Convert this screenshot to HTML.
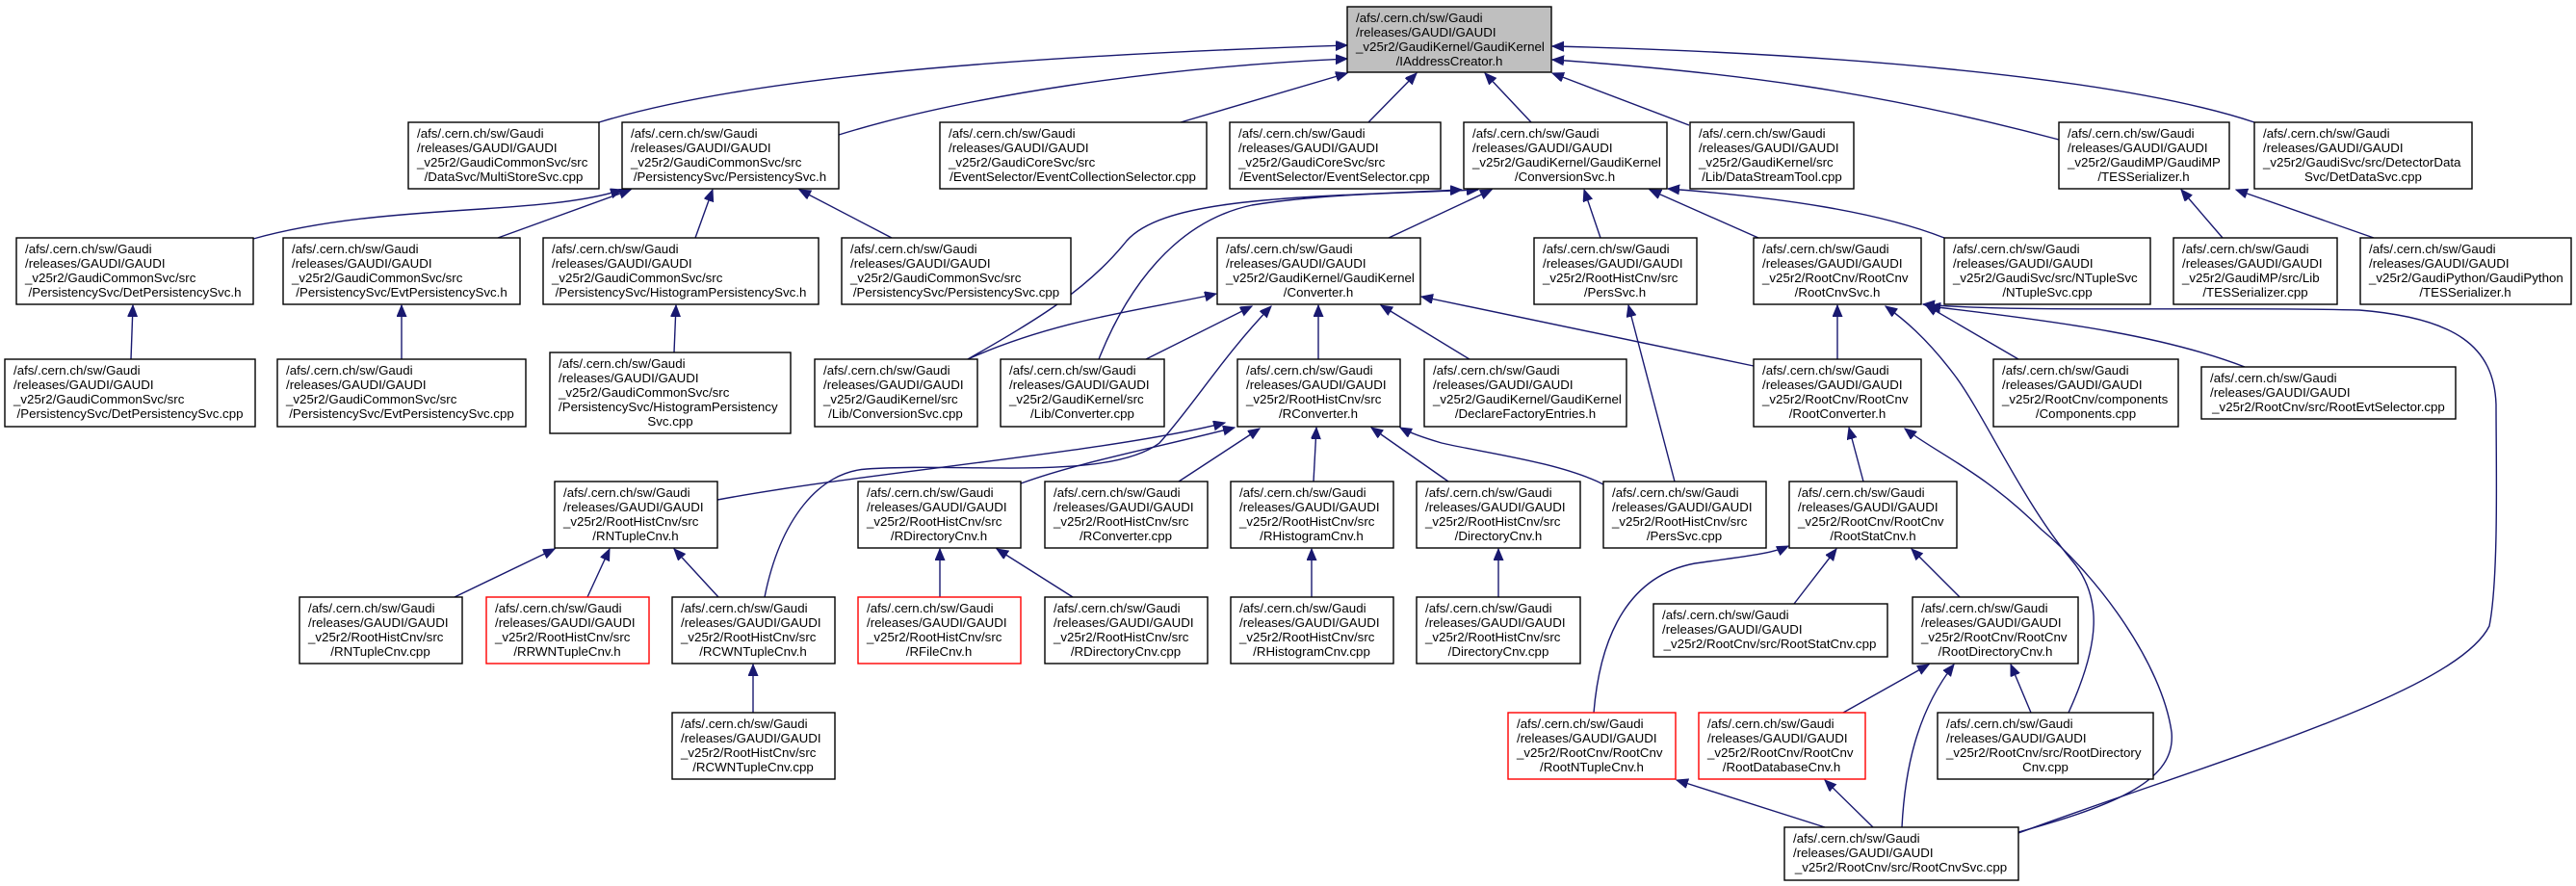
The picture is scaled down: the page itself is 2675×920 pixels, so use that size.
<!DOCTYPE html>
<html><head><meta charset="utf-8">
<style>
html,body{margin:0;padding:0;background:#fff;}
svg{display:block;}
text{font-family:"Liberation Sans",sans-serif;font-size:13.3px;fill:#000;}
.c{text-anchor:middle;}
rect{fill:#fff;stroke:#000;stroke-width:1.4;}
rect.r{stroke:#ff0000;}
rect.g{fill:#bfbfbf;}
path{fill:none;stroke:#191970;stroke-width:1.4;}
</style></head><body>
<svg width="2675" height="920" viewBox="0 0 2675 920" xmlns="http://www.w3.org/2000/svg">
<defs>
<marker id="ah" markerUnits="userSpaceOnUse" markerWidth="14" markerHeight="12" refX="12" refY="5" orient="auto">
<path d="M0,0 L12,5 L0,10 Z" style="fill:#191970;stroke:#191970;stroke-width:1"/>
</marker>
</defs>
<g marker-end="url(#ah)">
<path d="M622,127 C760,85 1000,60 1399,47"/>
<path d="M871,140 C1000,100 1200,70 1399,61"/>
<path d="M1226,127 L1399,76"/>
<path d="M1421,127 L1471,76"/>
<path d="M1590,127 L1542,76"/>
<path d="M1754,130 L1612,76"/>
<path d="M2138,145 C1950,95 1800,75 1612,62"/>
<path d="M2341,127 C2200,80 1900,55 1612,48"/>
<path d="M263,248 C400,210 560,225 646,197"/>
<path d="M517,247 L655,197"/>
<path d="M722,247 L740,197"/>
<path d="M926,247 L830,197"/>
<path d="M1442,247 L1549,197"/>
<path d="M1662,247 L1645,197"/>
<path d="M1826,247 L1713,197"/>
<path d="M2019,247 C1950,220 1850,205 1732,196"/>
<path d="M1005,373 C1080,330 1130,300 1170,250 C1210,205 1350,205 1518,197"/>
<path d="M1141,373 C1170,300 1220,230 1300,213 C1380,200 1480,200 1535,197"/>
<path d="M1369,373 L1369,317"/>
<path d="M1526,373 L1434,317"/>
<path d="M1821,380 L1476,308"/>
<path d="M1005,373 C1100,330 1200,320 1263,305"/>
<path d="M1190,373 L1300,318"/>
<path d="M794,620 C810,540 850,490 900,487 C1000,480 1150,500 1204,460 C1240,420 1270,370 1320,318"/>
<path d="M1908,373 L1908,317"/>
<path d="M2096,373 L2000,317"/>
<path d="M2331,381 C2250,350 2150,335 2003,318"/>
<path d="M2148,740 C2180,670 2185,620 2150,580 C2100,520 2060,430 2030,390 C2000,350 1975,330 1958,318"/>
<path d="M2096,865 C2300,790 2550,720 2585,650 C2595,600 2592,480 2592,420 C2590,360 2550,330 2450,322 C2300,318 2100,325 1997,316"/>
<path d="M1739,500 L1691,317"/>
<path d="M1935,500 L1920,444"/>
<path d="M2096,864 C2200,835 2260,810 2255,760 C2245,690 2180,600 2120,550 C2060,490 2010,470 1978,445"/>
<path d="M745,519 C900,490 1150,470 1272,439"/>
<path d="M1060,502 C1120,480 1200,465 1282,444"/>
<path d="M1224,500 L1308,445"/>
<path d="M1364,500 L1367,444"/>
<path d="M1504,500 L1424,444"/>
<path d="M1665,503 C1620,480 1540,470 1497,460 C1480,455 1465,450 1454,444"/>
<path d="M472,620 L576,570"/>
<path d="M610,620 L633,570"/>
<path d="M746,620 L700,570"/>
<path d="M782,740 L782,690"/>
<path d="M976,620 L976,570"/>
<path d="M1114,620 L1035,570"/>
<path d="M1362,620 L1362,570"/>
<path d="M1556,620 L1556,570"/>
<path d="M1863,627 L1907,570"/>
<path d="M2035,620 L1985,570"/>
<path d="M1655,740 C1660,680 1680,600 1760,585 C1810,578 1840,575 1857,567"/>
<path d="M1914,740 L2003,690"/>
<path d="M1975,859 C1978,800 1990,740 2029,690"/>
<path d="M2109,740 L2088,690"/>
<path d="M1945,859 L1895,810"/>
<path d="M1895,859 L1741,810"/>
<path d="M136,373 L138,317"/>
<path d="M417,373 L417,317"/>
<path d="M700,366 L702,317"/>
<path d="M2308,247 L2265,197"/>
<path d="M2465,247 L2322,197"/>
</g>

<!-- Row 0 -->
<rect class="g" x="1399" y="7" width="212" height="68"/>
<text x="1408" y="23">/afs/.cern.ch/sw/Gaudi</text><text x="1408" y="38">/releases/GAUDI/GAUDI</text><text x="1408" y="53">_v25r2/GaudiKernel/GaudiKernel</text><text class="c" x="1505" y="68">/IAddressCreator.h</text>

<!-- Row 1 -->
<rect x="424" y="127" width="198" height="69"/>
<text x="433" y="143">/afs/.cern.ch/sw/Gaudi</text><text x="433" y="158">/releases/GAUDI/GAUDI</text><text x="433" y="173">_v25r2/GaudiCommonSvc/src</text><text class="c" x="523" y="188">/DataSvc/MultiStoreSvc.cpp</text>

<rect x="646" y="127" width="225" height="69"/>
<text x="655" y="143">/afs/.cern.ch/sw/Gaudi</text><text x="655" y="158">/releases/GAUDI/GAUDI</text><text x="655" y="173">_v25r2/GaudiCommonSvc/src</text><text class="c" x="758" y="188">/PersistencySvc/PersistencySvc.h</text>

<rect x="976" y="127" width="277" height="69"/>
<text x="985" y="143">/afs/.cern.ch/sw/Gaudi</text><text x="985" y="158">/releases/GAUDI/GAUDI</text><text x="985" y="173">_v25r2/GaudiCoreSvc/src</text><text class="c" x="1114" y="188">/EventSelector/EventCollectionSelector.cpp</text>

<rect x="1277" y="127" width="219" height="69"/>
<text x="1286" y="143">/afs/.cern.ch/sw/Gaudi</text><text x="1286" y="158">/releases/GAUDI/GAUDI</text><text x="1286" y="173">_v25r2/GaudiCoreSvc/src</text><text class="c" x="1386" y="188">/EventSelector/EventSelector.cpp</text>

<rect x="1520" y="127" width="211" height="69"/>
<text x="1529" y="143">/afs/.cern.ch/sw/Gaudi</text><text x="1529" y="158">/releases/GAUDI/GAUDI</text><text x="1529" y="173">_v25r2/GaudiKernel/GaudiKernel</text><text class="c" x="1625" y="188">/ConversionSvc.h</text>

<rect x="1755" y="127" width="170" height="69"/>
<text x="1764" y="143">/afs/.cern.ch/sw/Gaudi</text><text x="1764" y="158">/releases/GAUDI/GAUDI</text><text x="1764" y="173">_v25r2/GaudiKernel/src</text><text class="c" x="1840" y="188">/Lib/DataStreamTool.cpp</text>

<rect x="2138" y="127" width="177" height="69"/>
<text x="2147" y="143">/afs/.cern.ch/sw/Gaudi</text><text x="2147" y="158">/releases/GAUDI/GAUDI</text><text x="2147" y="173">_v25r2/GaudiMP/GaudiMP</text><text class="c" x="2226" y="188">/TESSerializer.h</text>

<rect x="2341" y="127" width="226" height="69"/>
<text x="2350" y="143">/afs/.cern.ch/sw/Gaudi</text><text x="2350" y="158">/releases/GAUDI/GAUDI</text><text x="2350" y="173">_v25r2/GaudiSvc/src/DetectorData</text><text class="c" x="2454" y="188">Svc/DetDataSvc.cpp</text>

<!-- Row 2 -->
<rect x="17" y="247" width="246" height="69"/>
<text x="26" y="263">/afs/.cern.ch/sw/Gaudi</text><text x="26" y="278">/releases/GAUDI/GAUDI</text><text x="26" y="293">_v25r2/GaudiCommonSvc/src</text><text class="c" x="140" y="308">/PersistencySvc/DetPersistencySvc.h</text>

<rect x="294" y="247" width="246" height="69"/>
<text x="303" y="263">/afs/.cern.ch/sw/Gaudi</text><text x="303" y="278">/releases/GAUDI/GAUDI</text><text x="303" y="293">_v25r2/GaudiCommonSvc/src</text><text class="c" x="417" y="308">/PersistencySvc/EvtPersistencySvc.h</text>

<rect x="564" y="247" width="286" height="69"/>
<text x="573" y="263">/afs/.cern.ch/sw/Gaudi</text><text x="573" y="278">/releases/GAUDI/GAUDI</text><text x="573" y="293">_v25r2/GaudiCommonSvc/src</text><text class="c" x="707" y="308">/PersistencySvc/HistogramPersistencySvc.h</text>

<rect x="874" y="247" width="238" height="69"/>
<text x="883" y="263">/afs/.cern.ch/sw/Gaudi</text><text x="883" y="278">/releases/GAUDI/GAUDI</text><text x="883" y="293">_v25r2/GaudiCommonSvc/src</text><text class="c" x="993" y="308">/PersistencySvc/PersistencySvc.cpp</text>

<rect x="1264" y="247" width="211" height="69"/>
<text x="1273" y="263">/afs/.cern.ch/sw/Gaudi</text><text x="1273" y="278">/releases/GAUDI/GAUDI</text><text x="1273" y="293">_v25r2/GaudiKernel/GaudiKernel</text><text class="c" x="1369" y="308">/Converter.h</text>

<rect x="1593" y="247" width="169" height="69"/>
<text x="1602" y="263">/afs/.cern.ch/sw/Gaudi</text><text x="1602" y="278">/releases/GAUDI/GAUDI</text><text x="1602" y="293">_v25r2/RootHistCnv/src</text><text class="c" x="1677" y="308">/PersSvc.h</text>

<rect x="1821" y="247" width="174" height="69"/>
<text x="1830" y="263">/afs/.cern.ch/sw/Gaudi</text><text x="1830" y="278">/releases/GAUDI/GAUDI</text><text x="1830" y="293">_v25r2/RootCnv/RootCnv</text><text class="c" x="1908" y="308">/RootCnvSvc.h</text>

<rect x="2019" y="247" width="214" height="69"/>
<text x="2028" y="263">/afs/.cern.ch/sw/Gaudi</text><text x="2028" y="278">/releases/GAUDI/GAUDI</text><text x="2028" y="293">_v25r2/GaudiSvc/src/NTupleSvc</text><text class="c" x="2126" y="308">/NTupleSvc.cpp</text>

<rect x="2257" y="247" width="170" height="69"/>
<text x="2266" y="263">/afs/.cern.ch/sw/Gaudi</text><text x="2266" y="278">/releases/GAUDI/GAUDI</text><text x="2266" y="293">_v25r2/GaudiMP/src/Lib</text><text class="c" x="2342" y="308">/TESSerializer.cpp</text>

<rect x="2451" y="247" width="219" height="69"/>
<text x="2460" y="263">/afs/.cern.ch/sw/Gaudi</text><text x="2460" y="278">/releases/GAUDI/GAUDI</text><text x="2460" y="293">_v25r2/GaudiPython/GaudiPython</text><text class="c" x="2560" y="308">/TESSerializer.h</text>

<!-- Row 3 -->
<rect x="5" y="373" width="260" height="70"/>
<text x="14" y="389">/afs/.cern.ch/sw/Gaudi</text><text x="14" y="404">/releases/GAUDI/GAUDI</text><text x="14" y="419">_v25r2/GaudiCommonSvc/src</text><text class="c" x="135" y="434">/PersistencySvc/DetPersistencySvc.cpp</text>

<rect x="288" y="373" width="258" height="70"/>
<text x="297" y="389">/afs/.cern.ch/sw/Gaudi</text><text x="297" y="404">/releases/GAUDI/GAUDI</text><text x="297" y="419">_v25r2/GaudiCommonSvc/src</text><text class="c" x="417" y="434">/PersistencySvc/EvtPersistencySvc.cpp</text>

<rect x="571" y="366" width="250" height="84"/>
<text x="580" y="382">/afs/.cern.ch/sw/Gaudi</text><text x="580" y="397">/releases/GAUDI/GAUDI</text><text x="580" y="412">_v25r2/GaudiCommonSvc/src</text><text x="580" y="427">/PersistencySvc/HistogramPersistency</text><text class="c" x="696" y="442">Svc.cpp</text>

<rect x="846" y="373" width="169" height="70"/>
<text x="855" y="389">/afs/.cern.ch/sw/Gaudi</text><text x="855" y="404">/releases/GAUDI/GAUDI</text><text x="855" y="419">_v25r2/GaudiKernel/src</text><text class="c" x="930" y="434">/Lib/ConversionSvc.cpp</text>

<rect x="1039" y="373" width="170" height="70"/>
<text x="1048" y="389">/afs/.cern.ch/sw/Gaudi</text><text x="1048" y="404">/releases/GAUDI/GAUDI</text><text x="1048" y="419">_v25r2/GaudiKernel/src</text><text class="c" x="1124" y="434">/Lib/Converter.cpp</text>

<rect x="1285" y="373" width="169" height="70"/>
<text x="1294" y="389">/afs/.cern.ch/sw/Gaudi</text><text x="1294" y="404">/releases/GAUDI/GAUDI</text><text x="1294" y="419">_v25r2/RootHistCnv/src</text><text class="c" x="1369" y="434">/RConverter.h</text>

<rect x="1479" y="373" width="210" height="70"/>
<text x="1488" y="389">/afs/.cern.ch/sw/Gaudi</text><text x="1488" y="404">/releases/GAUDI/GAUDI</text><text x="1488" y="419">_v25r2/GaudiKernel/GaudiKernel</text><text class="c" x="1584" y="434">/DeclareFactoryEntries.h</text>

<rect x="1821" y="373" width="174" height="70"/>
<text x="1830" y="389">/afs/.cern.ch/sw/Gaudi</text><text x="1830" y="404">/releases/GAUDI/GAUDI</text><text x="1830" y="419">_v25r2/RootCnv/RootCnv</text><text class="c" x="1908" y="434">/RootConverter.h</text>

<rect x="2070" y="373" width="192" height="70"/>
<text x="2079" y="389">/afs/.cern.ch/sw/Gaudi</text><text x="2079" y="404">/releases/GAUDI/GAUDI</text><text x="2079" y="419">_v25r2/RootCnv/components</text><text class="c" x="2166" y="434">/Components.cpp</text>

<rect x="2286" y="381" width="264" height="54"/>
<text x="2295" y="397">/afs/.cern.ch/sw/Gaudi</text><text x="2295" y="412">/releases/GAUDI/GAUDI</text><text class="c" x="2418" y="427">_v25r2/RootCnv/src/RootEvtSelector.cpp</text>

<!-- Row 4 -->
<rect x="576" y="500" width="169" height="69"/>
<text x="585" y="516">/afs/.cern.ch/sw/Gaudi</text><text x="585" y="531">/releases/GAUDI/GAUDI</text><text x="585" y="546">_v25r2/RootHistCnv/src</text><text class="c" x="660" y="561">/RNTupleCnv.h</text>

<rect x="891" y="500" width="169" height="69"/>
<text x="900" y="516">/afs/.cern.ch/sw/Gaudi</text><text x="900" y="531">/releases/GAUDI/GAUDI</text><text x="900" y="546">_v25r2/RootHistCnv/src</text><text class="c" x="975" y="561">/RDirectoryCnv.h</text>

<rect x="1085" y="500" width="169" height="69"/>
<text x="1094" y="516">/afs/.cern.ch/sw/Gaudi</text><text x="1094" y="531">/releases/GAUDI/GAUDI</text><text x="1094" y="546">_v25r2/RootHistCnv/src</text><text class="c" x="1169" y="561">/RConverter.cpp</text>

<rect x="1278" y="500" width="169" height="69"/>
<text x="1287" y="516">/afs/.cern.ch/sw/Gaudi</text><text x="1287" y="531">/releases/GAUDI/GAUDI</text><text x="1287" y="546">_v25r2/RootHistCnv/src</text><text class="c" x="1362" y="561">/RHistogramCnv.h</text>

<rect x="1471" y="500" width="170" height="69"/>
<text x="1480" y="516">/afs/.cern.ch/sw/Gaudi</text><text x="1480" y="531">/releases/GAUDI/GAUDI</text><text x="1480" y="546">_v25r2/RootHistCnv/src</text><text class="c" x="1556" y="561">/DirectoryCnv.h</text>

<rect x="1665" y="500" width="169" height="69"/>
<text x="1674" y="516">/afs/.cern.ch/sw/Gaudi</text><text x="1674" y="531">/releases/GAUDI/GAUDI</text><text x="1674" y="546">_v25r2/RootHistCnv/src</text><text class="c" x="1749" y="561">/PersSvc.cpp</text>

<rect x="1858" y="500" width="174" height="69"/>
<text x="1867" y="516">/afs/.cern.ch/sw/Gaudi</text><text x="1867" y="531">/releases/GAUDI/GAUDI</text><text x="1867" y="546">_v25r2/RootCnv/RootCnv</text><text class="c" x="1945" y="561">/RootStatCnv.h</text>

<!-- Row 5 -->
<rect x="311" y="620" width="169" height="69"/>
<text x="320" y="636">/afs/.cern.ch/sw/Gaudi</text><text x="320" y="651">/releases/GAUDI/GAUDI</text><text x="320" y="666">_v25r2/RootHistCnv/src</text><text class="c" x="395" y="681">/RNTupleCnv.cpp</text>

<rect class="r" x="505" y="620" width="169" height="69"/>
<text x="514" y="636">/afs/.cern.ch/sw/Gaudi</text><text x="514" y="651">/releases/GAUDI/GAUDI</text><text x="514" y="666">_v25r2/RootHistCnv/src</text><text class="c" x="589" y="681">/RRWNTupleCnv.h</text>

<rect x="698" y="620" width="169" height="69"/>
<text x="707" y="636">/afs/.cern.ch/sw/Gaudi</text><text x="707" y="651">/releases/GAUDI/GAUDI</text><text x="707" y="666">_v25r2/RootHistCnv/src</text><text class="c" x="782" y="681">/RCWNTupleCnv.h</text>

<rect class="r" x="891" y="620" width="169" height="69"/>
<text x="900" y="636">/afs/.cern.ch/sw/Gaudi</text><text x="900" y="651">/releases/GAUDI/GAUDI</text><text x="900" y="666">_v25r2/RootHistCnv/src</text><text class="c" x="975" y="681">/RFileCnv.h</text>

<rect x="1085" y="620" width="169" height="69"/>
<text x="1094" y="636">/afs/.cern.ch/sw/Gaudi</text><text x="1094" y="651">/releases/GAUDI/GAUDI</text><text x="1094" y="666">_v25r2/RootHistCnv/src</text><text class="c" x="1169" y="681">/RDirectoryCnv.cpp</text>

<rect x="1278" y="620" width="169" height="69"/>
<text x="1287" y="636">/afs/.cern.ch/sw/Gaudi</text><text x="1287" y="651">/releases/GAUDI/GAUDI</text><text x="1287" y="666">_v25r2/RootHistCnv/src</text><text class="c" x="1362" y="681">/RHistogramCnv.cpp</text>

<rect x="1471" y="620" width="170" height="69"/>
<text x="1480" y="636">/afs/.cern.ch/sw/Gaudi</text><text x="1480" y="651">/releases/GAUDI/GAUDI</text><text x="1480" y="666">_v25r2/RootHistCnv/src</text><text class="c" x="1556" y="681">/DirectoryCnv.cpp</text>

<rect x="1717" y="627" width="243" height="55"/>
<text x="1726" y="643">/afs/.cern.ch/sw/Gaudi</text><text x="1726" y="658">/releases/GAUDI/GAUDI</text><text class="c" x="1838" y="673">_v25r2/RootCnv/src/RootStatCnv.cpp</text>

<rect x="1986" y="620" width="172" height="69"/>
<text x="1995" y="636">/afs/.cern.ch/sw/Gaudi</text><text x="1995" y="651">/releases/GAUDI/GAUDI</text><text x="1995" y="666">_v25r2/RootCnv/RootCnv</text><text class="c" x="2072" y="681">/RootDirectoryCnv.h</text>

<!-- Row 6 -->
<rect x="698" y="740" width="169" height="69"/>
<text x="707" y="756">/afs/.cern.ch/sw/Gaudi</text><text x="707" y="771">/releases/GAUDI/GAUDI</text><text x="707" y="786">_v25r2/RootHistCnv/src</text><text class="c" x="782" y="801">/RCWNTupleCnv.cpp</text>

<rect class="r" x="1566" y="740" width="174" height="69"/>
<text x="1575" y="756">/afs/.cern.ch/sw/Gaudi</text><text x="1575" y="771">/releases/GAUDI/GAUDI</text><text x="1575" y="786">_v25r2/RootCnv/RootCnv</text><text class="c" x="1653" y="801">/RootNTupleCnv.h</text>

<rect class="r" x="1764" y="740" width="173" height="69"/>
<text x="1773" y="756">/afs/.cern.ch/sw/Gaudi</text><text x="1773" y="771">/releases/GAUDI/GAUDI</text><text x="1773" y="786">_v25r2/RootCnv/RootCnv</text><text class="c" x="1850" y="801">/RootDatabaseCnv.h</text>

<rect x="2012" y="740" width="224" height="69"/>
<text x="2021" y="756">/afs/.cern.ch/sw/Gaudi</text><text x="2021" y="771">/releases/GAUDI/GAUDI</text><text x="2021" y="786">_v25r2/RootCnv/src/RootDirectory</text><text class="c" x="2124" y="801">Cnv.cpp</text>

<!-- Row 7 -->
<rect x="1853" y="859" width="243" height="55"/>
<text x="1862" y="875">/afs/.cern.ch/sw/Gaudi</text><text x="1862" y="890">/releases/GAUDI/GAUDI</text><text class="c" x="1974" y="905">_v25r2/RootCnv/src/RootCnvSvc.cpp</text>
</svg>
</body></html>
